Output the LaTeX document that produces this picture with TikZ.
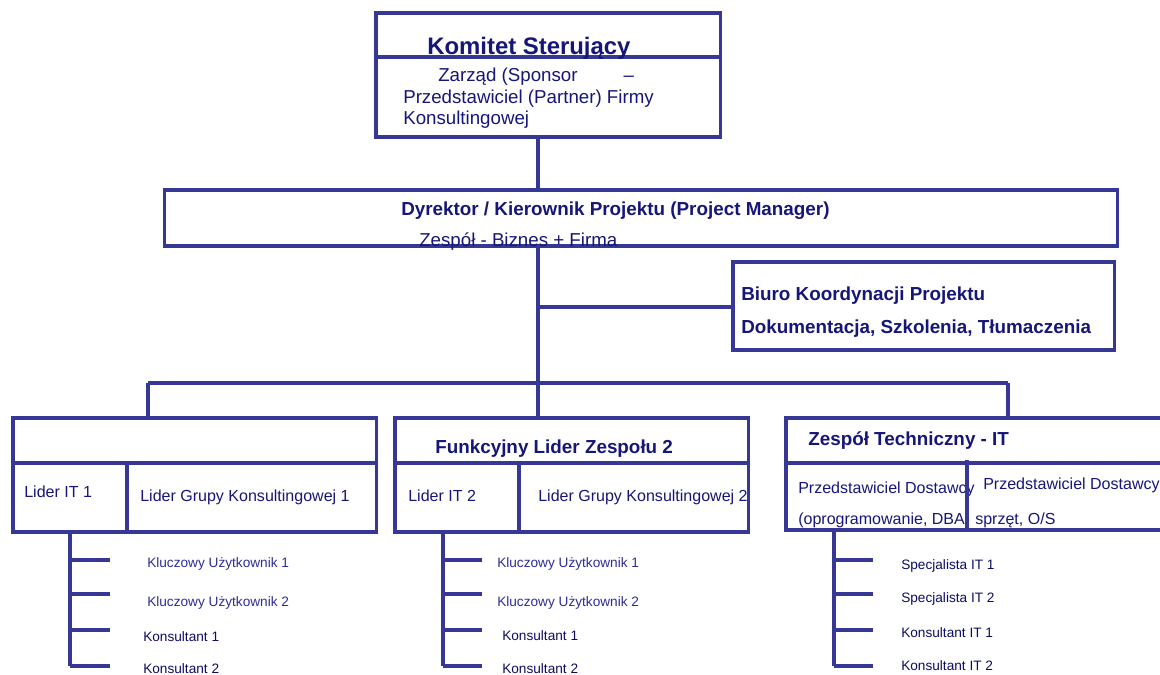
\documentclass[tikz,border=0pt]{standalone}
\usepackage{fontspec}
\setmainfont{Liberation Sans}

\definecolor{linecol}{RGB}{55,55,150}
\definecolor{txtcol}{RGB}{22,22,120}
\definecolor{itemcol}{RGB}{45,45,150}
\definecolor{darkcol}{RGB}{12,12,100}

\tikzset{
  box/.style={draw=linecol, line width=2.2pt, rectangle, inner sep=0pt},
  conn/.style={draw=linecol, line width=2.2pt},
  big/.style={anchor=base west, inner sep=0pt, text=txtcol, font=\bfseries\fontsize{17}{20}\selectfont},
  head/.style={anchor=base west, inner sep=0pt, text=txtcol, font=\bfseries\fontsize{13.4}{16}\selectfont},
  body/.style={anchor=base west, inner sep=0pt, text=txtcol, font=\fontsize{13.3}{16}\selectfont},
  cell/.style={anchor=base west, inner sep=0pt, text=txtcol, font=\fontsize{11.4}{14}\selectfont},
  item/.style={anchor=base west, inner sep=0pt, text=itemcol, font=\fontsize{9.7}{12}\selectfont},
  cons/.style={item, text=darkcol},
}

\begin{document}
\begin{tikzpicture}[x=0.025cm, y=-0.025cm]
        \useasboundingbox (0,0) rectangle (1160,675);
        % Boxes
        \node[box, minimum width=8.6cm, minimum height=3.1cm] (komitet) at (548,75) {};
        \node[box, minimum width=23.8cm, minimum height=1.4cm] (pm) at (641,218) {};
        \node[box, minimum width=9.525cm, minimum height=2.2cm] (biuro) at (923.5,306) {};
        \node[box, minimum width=9.075cm, minimum height=2.85cm] (team1) at (194.5,475) {};
        \node[box, minimum width=8.825cm, minimum height=2.85cm] (team2) at (571.5,475) {};
        \node[box, minimum width=9.75cm, minimum height=2.8cm] (team3) at (981,474) {};
        % Dividers
        \draw[conn] (376,57) -- (720,57);
        \draw[conn] (13,463) -- (376,463);
        \draw[conn] (127,463) -- (127,532);
        \draw[conn] (395,463) -- (748,463);
        \draw[conn] (519,463) -- (519,532);
        \draw[conn] (786,463) -- (1160,463);
        % Texts
        \node[big] (kom-t) at (427,55) {Komitet Sterujący};
        \node[body] (kom-a) at (438,82) {Zarząd (Sponsor\hspace{1.15cm}–};
        \node[body] (kom-b) at (403,104) {Przedstawiciel (Partner) Firmy};
        \node[body] (kom-c) at (403,125) {Konsultingowej};
        \node[head] (pm-t) at (401,216) {Dyrektor / Kierownik Projektu (Project Manager)};
        \node[body] (pm-a) at (419,247) {Zespół - Biznes + Firma};
        \node[head] (biuro-a) at (741,301) {Biuro Koordynacji Projektu};
        \node[head] (biuro-b) at (741,334) {Dokumentacja, Szkolenia, Tłumaczenia};
        \node[head] (team2-t) at (435,454) {Funkcyjny Lider Zespołu 2};
        \node[head] (team3-t) at (808,446) {Zespół Techniczny - IT};
        \node[cell] (it1) at (24,497) {Lider IT 1};
        \node[cell] (lg1) at (140,501) {Lider Grupy Konsultingowej 1};
        \node[cell] (it2) at (408,502) {Lider IT 2};
        \node[cell] (lg2) at (538,502) {Lider Grupy Konsultingowej 2};
        \node[cell] (pd1) at (798,494) {Przedstawiciel Dostawcy};
        \node[cell] (pd1b) at (798,524) {(oprogramowanie, DBA)};
        \node[cell] (pd2) at (983,490) {Przedstawiciel Dostawcy};
        \node[cell] (pd2b) at (975,524) {sprzęt, O/S};
        \draw[conn] (967,460) -- (967,532);
        % Lists
        \node[item] (u11) at (147,567) {Kluczowy Użytkownik 1};
        \node[item] (u12) at (147,606) {Kluczowy Użytkownik 2};
        \node[cons] (k11) at (143,641) {Konsultant 1};
        \node[cons] (k12) at (143,673) {Konsultant 2};
        \node[item] (u21) at (497,567) {Kluczowy Użytkownik 1};
        \node[item] (u22) at (497,606) {Kluczowy Użytkownik 2};
        \node[cons] (k21) at (502,640) {Konsultant 1};
        \node[cons] (k22) at (502,673) {Konsultant 2};
        \node[cons] (s31) at (901,569) {Specjalista IT 1};
        \node[cons] (s32) at (901,603) {Specjalista IT 2};
        \node[cons] (k31) at (901,637) {Konsultant IT 1};
        \node[cons] (k32) at (901,670) {Konsultant IT 2};
        % Connectors
        \coordinate (spine) at (538,307);
        \coordinate (d1) at (148,383);
        \coordinate (d2) at (538,383);
        \coordinate (d3) at (1008,383);
        \draw[conn] (komitet.south -| spine) -- (pm.north -| spine);
        \draw[conn] (pm.south -| spine) -- (spine) -- (biuro.west |- spine);
        \draw[conn] (spine) -- (team2.north -| spine);
        \draw[conn] (d1) -- (d3);
        \draw[conn] (d1) -- (team1.north -| d1);
        \draw[conn] (d3) -- (team3.north -| d3);
        \coordinate (trunk1) at (70,666);
        \coordinate (trunk2) at (443,666);
        \coordinate (trunk3) at (834,666);
        \draw[conn] (team1.south -| trunk1) -- (trunk1);
        \draw[conn] (team2.south -| trunk2) -- (trunk2);
        \draw[conn] (team3.south -| trunk3) -- (trunk3);
        \foreach \y in {560,594,630,666} {
          \draw[conn] (70,\y) -- (110,\y);
          \draw[conn] (443,\y) -- (482,\y);
          \draw[conn] (834,\y) -- (873,\y);
        }
\end{tikzpicture}
\end{document}
